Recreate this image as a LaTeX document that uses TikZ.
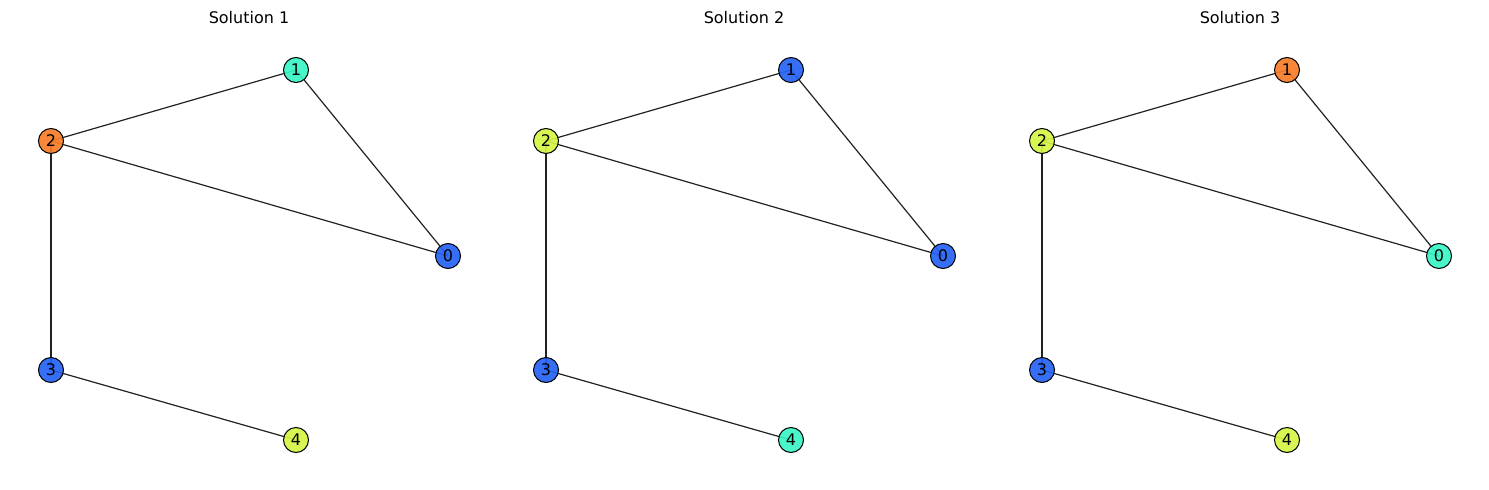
\documentclass[tikz,border=0pt]{standalone}
\usepackage{fontspec}
\setmainfont{DejaVu Sans}
\definecolor{cblue}{HTML}{2563F5}
\definecolor{ccyan}{HTML}{38F5C6}
\definecolor{cyel}{HTML}{D4F545}
\definecolor{corange}{HTML}{F87D28}
\definecolor{cedge}{HTML}{222222}
\begin{document}
\begin{tikzpicture}[x=1pt,y=-1pt,
  vtx/.style={circle,draw=black,line width=1pt,minimum size=25pt,inner sep=0pt,fill opacity=0.92,text opacity=1,font=\fontsize{16}{16}\selectfont},
  edge/.style={draw=cedge,line width=1.2pt},
  ttl/.style={font=\fontsize{16}{16}\selectfont}]
\useasboundingbox (0,0) rectangle (1489,490);
\newcommand{\solgraph}[7]{%
  \begin{scope}[xshift=#1]
  \coordinate (p1#2) at (296,70);
  \coordinate (p2#2) at (51,141);
  \coordinate (p0#2) at (448,256);
  \coordinate (p3#2) at (51,370);
  \coordinate (p4#2) at (296,440);
  \node[ttl] (t#2) at (249,18) {Solution #2};
  \draw[edge] (p1#2) -- (p2#2);
  \draw[edge] (p2#2) -- (p0#2);
  \draw[edge] (p1#2) -- (p0#2);
  \draw[edge] (p2#2) -- (p3#2);
  \draw[edge] (p3#2) -- (p4#2);
  \node[vtx,fill=#3] (n0#2) at (p0#2) {0};
  \node[vtx,fill=#4] (n1#2) at (p1#2) {1};
  \node[vtx,fill=#5] (n2#2) at (p2#2) {2};
  \node[vtx,fill=#6] (n3#2) at (p3#2) {3};
  \node[vtx,fill=#7] (n4#2) at (p4#2) {4};
  \end{scope}}
\solgraph{0}{1}{cblue}{ccyan}{corange}{cblue}{cyel}
\solgraph{495}{2}{cblue}{cblue}{cyel}{cblue}{ccyan}
\solgraph{991}{3}{ccyan}{corange}{cyel}{cblue}{cyel}
\end{tikzpicture}
\end{document}
